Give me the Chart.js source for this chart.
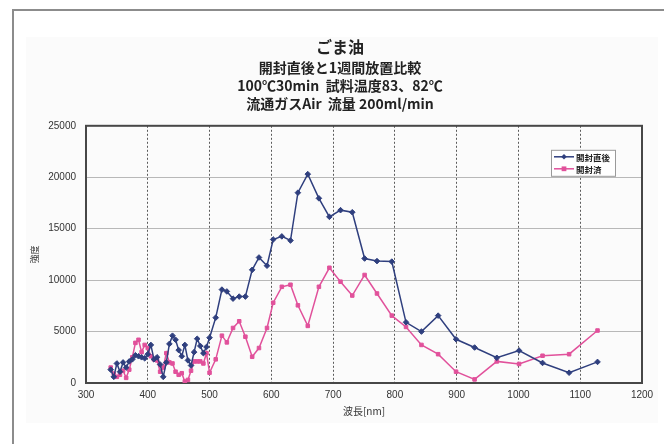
<!DOCTYPE html>
<html>
<head>
<meta charset="utf-8">
<script src="https://cdn.jsdelivr.net/npm/chart.js@4.4.0/dist/chart.umd.min.js"></script>
<style>
  html, body { margin: 0; padding: 0; background: #fff; }
  #wrap { position: relative; width: 664px; height: 444px; overflow: hidden; }
  #frame { position: absolute; left: 12px; top: 9px; width: 720px; height: 480px;
           border-top: 2px solid #8c8c8c; border-left: 2px solid #8c8c8c; }
  #panel { position: absolute; left: 26px; top: 37px; width: 632px; height: 386px; background: #fbfbfb; }
  canvas { position: absolute; left: 0; top: 0; }
</style>
</head>
<body>
<div id="wrap">
  <div id="frame"></div>
  <div id="panel"></div>
  <canvas id="c" width="664" height="444"></canvas>
</div>
<script>
// Wavelength sampling points [nm]
const wavelengths = [
  340, 345, 350, 355, 360, 365, 370, 375, 380, 385, 390, 395, 400, 405, 410, 415,
  420, 425, 430, 435, 440, 445, 450, 455, 460, 465, 470, 475, 480, 485, 490, 495,
  500, 510, 520, 528, 538, 548, 558, 569, 580, 593, 603, 617, 631, 643, 659, 677,
  694, 712, 731, 751, 771, 795, 818, 843, 870, 899, 929, 965, 1001, 1039, 1082, 1128
];

// Intensity right after opening
const freshOpened = [
  1300, 600, 1900, 1100, 2000, 1500, 2100, 2300, 2700, 2600, 2500, 2400, 2800, 3700, 2300, 2500,
  1800, 600, 2000, 3800, 4600, 4200, 3200, 2600, 3700, 2200, 1700, 3000, 4300, 3600, 2900, 3500,
  4400, 6350, 9080, 8900, 8200, 8400, 8400, 11000, 12200, 11400, 13950, 14250, 13850, 18500, 20300, 17950,
  16150, 16800, 16600, 12100, 11850, 11800, 5900, 5000, 6550, 4250, 3450, 2450, 3150, 1950, 1000, 2050
];

// Intensity after one week left opened
const weekOpened = [
  1500, 900, 600, 800, 1200, 500, 1300, 2500, 3900, 4200, 3000, 3700, 3400, 2600, 2300, 2200,
  1100, 1500, 2900, 2000, 1900, 1100, 800, 950, 150, 300, 1200, 2100, 2100, 2100, 1900, 2900,
  1000, 2300, 4600, 3950, 5350, 6000, 4500, 2550, 3400, 5350, 7800, 9350, 9550, 7550, 5550, 9350,
  11200, 9850, 8500, 10500, 8700, 6550, 5450, 3700, 2800, 1100, 350, 2100, 1850, 2650, 2800, 5100
];

const seriesLabels = ['開封直後', '開封済'];
const xTicks = { min: 300, max: 1200, step: 100 };
const yTicks = { min: 0, max: 25000, step: 5000 };

const titleText = 'ごま油';
const subtitleLines = ['開封直後と1週間放置比較', '100℃30min  試料温度83、82℃', '流通ガスAir  流量 200ml/min'];

const CJK = '"Noto Sans CJK JP", "Noto Sans", sans-serif';
const LATIN = '"Liberation Sans", Arial, sans-serif';
const NAVY = '#2f3f7e';
const PINK = '#e1519b';

// Dark frame around the plot area
const plotFrame = {
  id: 'plotFrame',
  beforeDatasetsDraw(chart) {
    const { ctx, chartArea: a } = chart;
    ctx.save();
    ctx.strokeStyle = '#474747';
    ctx.lineWidth = 2;
    ctx.strokeRect(a.left, a.top, a.right - a.left, a.bottom - a.top);
    ctx.restore();
  }
};

// Boxed legend placed inside the upper right of the plot
const innerLegend = {
  id: 'innerLegend',
  afterDraw(chart) {
    const { ctx, chartArea: a } = chart;
    const x0 = a.right - 91, y0 = a.top + 24, w = 64, h = 26;
    ctx.save();
    ctx.fillStyle = '#fff';
    ctx.fillRect(x0, y0, w, h);
    ctx.strokeStyle = '#9a9a9a';
    ctx.lineWidth = 1;
    ctx.strokeRect(x0 + 0.5, y0 + 0.5, w, h);
    chart.data.datasets.forEach((ds, i) => {
      const y = y0 + 7 + i * 12;
      ctx.strokeStyle = ds.borderColor;
      ctx.lineWidth = 1.5;
      ctx.beginPath();
      ctx.moveTo(x0 + 3, y);
      ctx.lineTo(x0 + 23, y);
      ctx.stroke();
      ctx.fillStyle = ds.borderColor;
      const cx = x0 + 13, r = 2.8;
      ctx.beginPath();
      if (ds.pointStyle === 'rectRot') {
        ctx.moveTo(cx, y - r); ctx.lineTo(cx + r, y); ctx.lineTo(cx, y + r); ctx.lineTo(cx - r, y);
      } else {
        ctx.rect(cx - r * 0.85, y - r * 0.85, r * 1.7, r * 1.7);
      }
      ctx.closePath();
      ctx.fill();
      ctx.fillStyle = '#222';
      ctx.font = 'bold 8.5px ' + CJK;
      ctx.textBaseline = 'middle';
      ctx.fillText(ds.label, x0 + 25, y + 0.5);
    });
    ctx.restore();
  }
};

const toPoints = vals => wavelengths.map((w, i) => ({ x: w, y: vals[i] }));
const plainNumber = v => String(v);

new Chart(document.getElementById('c'), {
  type: 'line',
  data: {
    datasets: [
      {
        label: seriesLabels[0], data: toPoints(freshOpened),
        borderColor: NAVY, backgroundColor: NAVY, borderWidth: 1.5,
        pointStyle: 'rectRot', pointRadius: 2.8, pointBorderWidth: 1, tension: 0
      },
      {
        label: seriesLabels[1], data: toPoints(weekOpened),
        borderColor: PINK, backgroundColor: PINK, borderWidth: 1.5,
        pointStyle: 'rect', pointRadius: 2.5, pointBorderWidth: 1, tension: 0
      }
    ]
  },
  options: {
    responsive: false,
    animation: false,
    devicePixelRatio: 1,
    layout: { padding: { left: 16, right: 0, top: 0, bottom: 0 } },
    plugins: {
      legend: { display: false },
      tooltip: { enabled: false },
      title: {
        display: true, text: titleText, color: '#222',
        font: { family: CJK, size: 16, weight: 'bold', lineHeight: 1.2 },
        padding: { top: 37, bottom: 2 }
      },
      subtitle: {
        display: true, text: subtitleLines, color: '#222',
        font: { family: CJK, size: 14, weight: 'bold', lineHeight: 1.3 },
        padding: { top: 0, bottom: 13 }
      }
    },
    scales: {
      x: {
        type: 'linear', min: xTicks.min, max: xTicks.max,
        ticks: {
          stepSize: xTicks.step, color: '#333', padding: 6, maxRotation: 0, autoSkip: false,
          font: { family: LATIN, size: 10 }, callback: plainNumber
        },
        grid: {
          drawTicks: false, lineWidth: 1,
          color: c => (c.tick && (c.tick.value === xTicks.min || c.tick.value === xTicks.max)) ? 'rgba(0,0,0,0)' : '#5a5a5a'
        },
        border: { display: false, dash: [2, 2] },
        title: {
          display: true, text: '波長[nm]', color: '#333',
          font: { family: CJK, size: 10, lineHeight: 1.2 },
          padding: { top: 0, bottom: 27 }
        },
        afterFit: s => { s.height = 61; }
      },
      y: {
        type: 'linear', min: yTicks.min, max: yTicks.max,
        ticks: {
          stepSize: yTicks.step, color: '#333', padding: 10,
          font: { family: LATIN, size: 10 }, callback: plainNumber
        },
        grid: {
          drawTicks: false, lineWidth: 1,
          color: c => (c.tick && (c.tick.value === yTicks.min || c.tick.value === yTicks.max)) ? 'rgba(0,0,0,0)' : '#b8b8b8'
        },
        border: { display: false },
        title: {
          display: true, text: '強度', color: '#333',
          font: { family: CJK, size: 9, lineHeight: 1.2 },
          padding: { top: 13, bottom: 0 }
        },
        afterFit: s => { s.width = 70; }
      },
      yRight: {
        type: 'linear', position: 'right', display: true,
        ticks: { display: false }, grid: { display: false }, border: { display: false },
        afterFit: s => { s.width = 22; }
      }
    }
  },
  plugins: [plotFrame, innerLegend]
});
</script>
</body>
</html>
